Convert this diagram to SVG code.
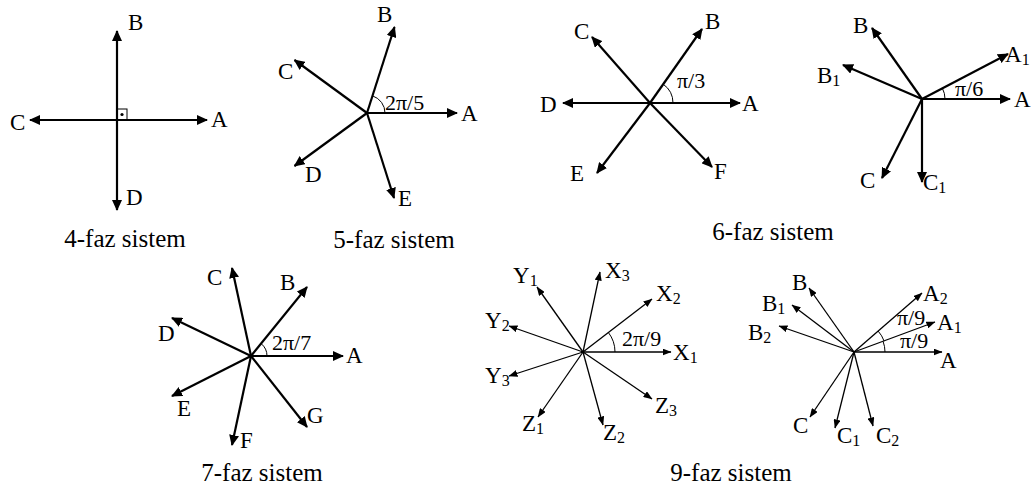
<svg xmlns="http://www.w3.org/2000/svg" width="1031" height="488" viewBox="0 0 1031 488" font-family="'Liberation Serif', 'DejaVu Serif', serif">
<style>
text{font-family:'Liberation Serif','DejaVu Serif',serif;fill:#000}
.lb{font-size:23px}
.cap{font-size:25px}
.sub{font-size:16px}
.ang{font-size:22px}
.thick{stroke:#000;stroke-width:2.2;fill:none;marker-end:url(#ah)}
.thin{stroke:#000;stroke-width:1.3;fill:none;marker-end:url(#ahs)}
.arc{stroke:#000;stroke-width:1;fill:none}
</style>
<defs>
<marker id="ah" viewBox="0 0 11 10" refX="10" refY="5" markerWidth="11" markerHeight="10" markerUnits="userSpaceOnUse" orient="auto"><path d="M0,0 L11,5 L0,10 z" fill="#000"/></marker>
<marker id="ahs" viewBox="0 0 9 7" refX="8.5" refY="3.5" markerWidth="9" markerHeight="7" markerUnits="userSpaceOnUse" orient="auto"><path d="M0,0 L9,3.5 L0,7 z" fill="#000"/></marker>
</defs>
<rect width="1031" height="488" fill="#fff"/>

<g id="faz4">
<g id="faz4-connectors">
<line class="thick" x1="117" y1="120" x2="207" y2="120"/>
<line class="thick" x1="117" y1="120" x2="117" y2="31"/>
<line class="thick" x1="117" y1="120" x2="30" y2="120"/>
<line class="thick" x1="117" y1="120" x2="117" y2="210"/>
</g>
<rect x="117" y="109" width="10" height="11" fill="none" stroke="#000" stroke-width="1"/>
<circle cx="122" cy="114.5" r="1.6" fill="#000"/>
<text class="lb" x="211" y="127">A</text>
<text class="lb" x="128" y="30">B</text>
<text class="lb" x="10" y="130">C</text>
<text class="lb" x="126" y="205">D</text>
<text class="cap" x="125" y="247" text-anchor="middle">4-faz sistem</text>
</g>

<g id="faz5">
<g id="faz5-connectors">
<line class="thick" x1="367" y1="113" x2="457" y2="113"/>
<line class="thick" x1="367" y1="113" x2="394.5" y2="27"/>
<line class="thick" x1="367" y1="113" x2="294.5" y2="60"/>
<line class="thick" x1="367" y1="113" x2="294.5" y2="166"/>
<line class="thick" x1="367" y1="113" x2="394" y2="198"/>
</g>
<path class="arc" d="M385,113 A18,18 0 0 0 372.6,95.9"/>
<text class="lb" x="461" y="121">A</text>
<text class="lb" x="377" y="22">B</text>
<text class="lb" x="278" y="79">C</text>
<text class="lb" x="305" y="182">D</text>
<text class="lb" x="398" y="206">E</text>
<text class="ang" x="385" y="110">2π/5</text>
<text class="cap" x="394" y="248" text-anchor="middle">5-faz sistem</text>
</g>

<g id="faz6">
<g id="faz6-connectors">
<line class="thick" x1="650" y1="103" x2="740" y2="103"/>
<line class="thick" x1="650" y1="103" x2="702" y2="29"/>
<line class="thick" x1="650" y1="103" x2="592" y2="37"/>
<line class="thick" x1="650" y1="103" x2="563" y2="103"/>
<line class="thick" x1="650" y1="103" x2="597" y2="173"/>
<line class="thick" x1="650" y1="103" x2="712" y2="167"/>
</g>
<path class="arc" d="M673,103 A23,23 0 0 0 663.2,84.2"/>
<text class="lb" x="742" y="111">A</text>
<text class="lb" x="705" y="29">B</text>
<text class="lb" x="574" y="39">C</text>
<text class="lb" x="540" y="112">D</text>
<text class="lb" x="570" y="181">E</text>
<text class="lb" x="714" y="179">F</text>
<text class="ang" x="677" y="88">π/3</text>
</g>

<g id="faz6b">
<g id="faz6b-connectors">
<line class="thick" x1="922" y1="99" x2="1010" y2="99"/>
<line class="thick" x1="922" y1="99" x2="1008" y2="54"/>
<line class="thick" x1="922" y1="99" x2="872" y2="28"/>
<line class="thick" x1="922" y1="99" x2="843" y2="65"/>
<line class="thick" x1="922" y1="99" x2="882" y2="178"/>
<line class="thick" x1="922" y1="99" x2="922" y2="182"/>
</g>
<path class="arc" d="M945,99 A23,23 0 0 0 942.4,88.3"/>
<text class="lb" x="1014" y="107">A</text>
<text class="lb" x="1005" y="62">A<tspan class="sub" dy="3">1</tspan></text>
<text class="lb" x="853" y="33">B</text>
<text class="lb" x="817" y="83">B<tspan class="sub" dy="3">1</tspan></text>
<text class="lb" x="860" y="188">C</text>
<text class="lb" x="923" y="190">C<tspan class="sub" dy="3">1</tspan></text>
<text class="ang" x="955" y="96">π/6</text>
<text class="cap" x="773" y="240" text-anchor="middle">6-faz sistem</text>
</g>

<g id="faz7">
<g id="faz7-connectors">
<line class="thick" x1="251" y1="356" x2="343" y2="356"/>
<line class="thick" x1="251" y1="356" x2="307" y2="287"/>
<line class="thick" x1="251" y1="356" x2="232" y2="268"/>
<line class="thick" x1="251" y1="356" x2="172" y2="318"/>
<line class="thick" x1="251" y1="356" x2="172" y2="396"/>
<line class="thick" x1="251" y1="356" x2="232" y2="445"/>
<line class="thick" x1="251" y1="356" x2="307" y2="427"/>
</g>
<path class="arc" d="M267,356 A16,16 0 0 0 261.1,343.6"/>
<text class="lb" x="346" y="363">A</text>
<text class="lb" x="280" y="290">B</text>
<text class="lb" x="207" y="285">C</text>
<text class="lb" x="158" y="341">D</text>
<text class="lb" x="177" y="416">E</text>
<text class="lb" x="240" y="448">F</text>
<text class="lb" x="307" y="423">G</text>
<text class="ang" x="272" y="350">2π/7</text>
<text class="cap" x="262" y="481" text-anchor="middle">7-faz sistem</text>
</g>

<g id="faz9">
<g id="faz9-connectors">
<line class="thin" x1="583" y1="352" x2="671" y2="352"/>
<line class="thin" x1="583" y1="352" x2="652" y2="299"/>
<line class="thin" x1="583" y1="352" x2="600" y2="272"/>
<line class="thin" x1="583" y1="352" x2="537" y2="287"/>
<line class="thin" x1="583" y1="352" x2="509" y2="326"/>
<line class="thin" x1="583" y1="352" x2="509" y2="376"/>
<line class="thin" x1="583" y1="352" x2="538" y2="417"/>
<line class="thin" x1="583" y1="352" x2="603" y2="425"/>
<line class="thin" x1="583" y1="352" x2="652" y2="399"/>
</g>
<path class="arc" d="M615,352 A32,32 0 0 0 608.4,332.5"/>
<text class="lb" x="673" y="360">X<tspan class="sub" dy="3">1</tspan></text>
<text class="lb" x="656" y="301">X<tspan class="sub" dy="3">2</tspan></text>
<text class="lb" x="605" y="278">X<tspan class="sub" dy="3">3</tspan></text>
<text class="lb" x="513" y="283">Y<tspan class="sub" dy="3">1</tspan></text>
<text class="lb" x="485" y="328">Y<tspan class="sub" dy="3">2</tspan></text>
<text class="lb" x="485" y="383">Y<tspan class="sub" dy="3">3</tspan></text>
<text class="lb" x="522" y="431">Z<tspan class="sub" dy="3">1</tspan></text>
<text class="lb" x="603" y="440">Z<tspan class="sub" dy="3">2</tspan></text>
<text class="lb" x="655" y="413">Z<tspan class="sub" dy="3">3</tspan></text>
<text class="ang" x="622" y="346">2π/9</text>
</g>

<g id="faz9b">
<g id="faz9b-connectors">
<line class="thin" x1="854" y1="352" x2="942" y2="352"/>
<line class="thin" x1="854" y1="352" x2="935" y2="322"/>
<line class="thin" x1="854" y1="352" x2="922" y2="293"/>
<line class="thin" x1="854" y1="352" x2="809" y2="288"/>
<line class="thin" x1="854" y1="352" x2="792" y2="305"/>
<line class="thin" x1="854" y1="352" x2="779" y2="326"/>
<line class="thin" x1="854" y1="352" x2="810" y2="417"/>
<line class="thin" x1="854" y1="352" x2="835" y2="428"/>
<line class="thin" x1="854" y1="352" x2="873" y2="426"/>
</g>
<path class="arc" d="M885,352 A31,31 0 0 0 883.1,341.4"/>
<path class="arc" d="M884.1,341.1 A32,32 0 0 0 878.2,331.1"/>
<text class="lb" x="940" y="368">A</text>
<text class="lb" x="937" y="330">A<tspan class="sub" dy="3">1</tspan></text>
<text class="lb" x="923" y="301">A<tspan class="sub" dy="3">2</tspan></text>
<text class="lb" x="792" y="290">B</text>
<text class="lb" x="762" y="311">B<tspan class="sub" dy="3">1</tspan></text>
<text class="lb" x="748" y="340">B<tspan class="sub" dy="3">2</tspan></text>
<text class="lb" x="793" y="433">C</text>
<text class="lb" x="837" y="443">C<tspan class="sub" dy="3">1</tspan></text>
<text class="lb" x="876" y="443">C<tspan class="sub" dy="3">2</tspan></text>
<text class="ang" x="897" y="325">π/9</text>
<text class="ang" x="900" y="348">π/9</text>
<text class="cap" x="731" y="481" text-anchor="middle">9-faz sistem</text>
</g>
</svg>
